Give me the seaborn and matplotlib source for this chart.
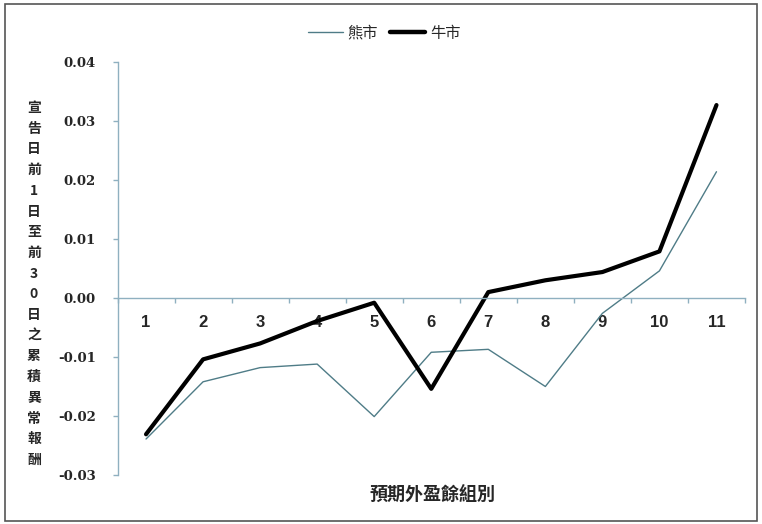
import matplotlib
matplotlib.use("Agg")
import matplotlib.pyplot as plt
import seaborn as sns
import pandas as pd
from matplotlib.patches import Rectangle
from matplotlib.lines import Line2D
from matplotlib.ticker import FixedLocator

groups = [1, 2, 3, 4, 5, 6, 7, 8, 9, 10, 11]
bear = [-0.0239, -0.0142, -0.0118, -0.0112, -0.0201, -0.0092, -0.0087, -0.0150, -0.0026, 0.0046, 0.0214]
bull = [-0.0231, -0.0104, -0.0077, -0.0039, -0.0008, -0.0154, 0.0010, 0.0030, 0.0044, 0.0079, 0.0327]
series_names = ["熊市", "牛市"]
ylabel = "宣告日前1日至前30日之累積異常報酬"
xlabel = "預期外盈餘組別"

sns.set_theme(style="white")
plt.rcParams['font.family'] = ['Noto Sans CJK TC', 'DejaVu Sans']

df = pd.DataFrame({
    "group": groups * 2,
    "car": bear + bull,
    "market": [series_names[0]] * len(groups) + [series_names[1]] * len(groups),
})

fig = plt.figure(figsize=(7.62, 5.24), dpi=100)
ax = fig.add_axes([0.1542, 0.0935, 0.8235, 0.7882])

bear_color = "#4f7c87"
bull_color = "#000000"
axis_color = "#8fb0c0"

sns.lineplot(data=df[df.market == series_names[0]], x="group", y="car", ax=ax,
             color=bear_color, linewidth=1.0, legend=False)
sns.lineplot(data=df[df.market == series_names[1]], x="group", y="car", ax=ax,
             color=bull_color, linewidth=3.0, legend=False)

ax.set_xlim(0.5, 11.5)
ax.set_ylim(-0.03, 0.04)
yt = [-0.03, -0.02, -0.01, 0.0, 0.01, 0.02, 0.03, 0.04]
ax.set_yticks(yt)
ax.set_yticklabels([f"{v:.2f}" for v in yt])
ax.set_xticks(groups)
ax.set_xticklabels([str(g) for g in groups])
ax.xaxis.set_minor_locator(FixedLocator([g + 0.5 for g in [0] + groups]))

for s in ["top", "right"]:
    ax.spines[s].set_visible(False)
ax.spines["bottom"].set_position(("data", 0))
for s in ["bottom", "left"]:
    ax.spines[s].set_color(axis_color)
    ax.spines[s].set_linewidth(1.0)

ax.tick_params(axis="both", which="both", bottom=True, left=True)
ax.tick_params(axis="x", which="major", length=0, pad=12, labelsize=12)
ax.tick_params(axis="x", which="minor", length=3.6, width=1, color=axis_color, direction="out")
ax.tick_params(axis="y", which="major", length=3.6, width=1, color=axis_color, direction="out",
               pad=12, labelsize=9.5)
for lab in ax.get_xticklabels():
    lab.set_fontfamily(["Liberation Sans", "DejaVu Sans"])
    lab.set_fontweight("bold")
for lab in ax.get_yticklabels():
    lab.set_fontfamily(["DejaVu Serif"])
    lab.set_fontweight("bold")

ax.set_xlabel("")
ax.set_ylabel("")
fig.text(0.567, 0.057, xlabel, ha="center", va="center", fontsize=13, fontweight="bold")
fig.text(0.0446, 0.458, "\n".join(ylabel), ha="center", va="center", fontsize=10,
         fontweight="bold", linespacing=1.61)

handles = [Line2D([], [], color=bear_color, lw=1.0), Line2D([], [], color=bull_color, lw=3.2)]
fig.legend(handles, series_names, loc="center", bbox_to_anchor=(0.504, 0.937), ncol=2,
           frameon=False, fontsize=11, handlelength=2.3, columnspacing=0.8, handletextpad=0.3)

fig.patches.append(Rectangle((0.006, 0.006), 0.988, 0.986, transform=fig.transFigure,
                             fill=False, edgecolor="#555555", linewidth=1.2))

fig.savefig("out.png", dpi=100)
